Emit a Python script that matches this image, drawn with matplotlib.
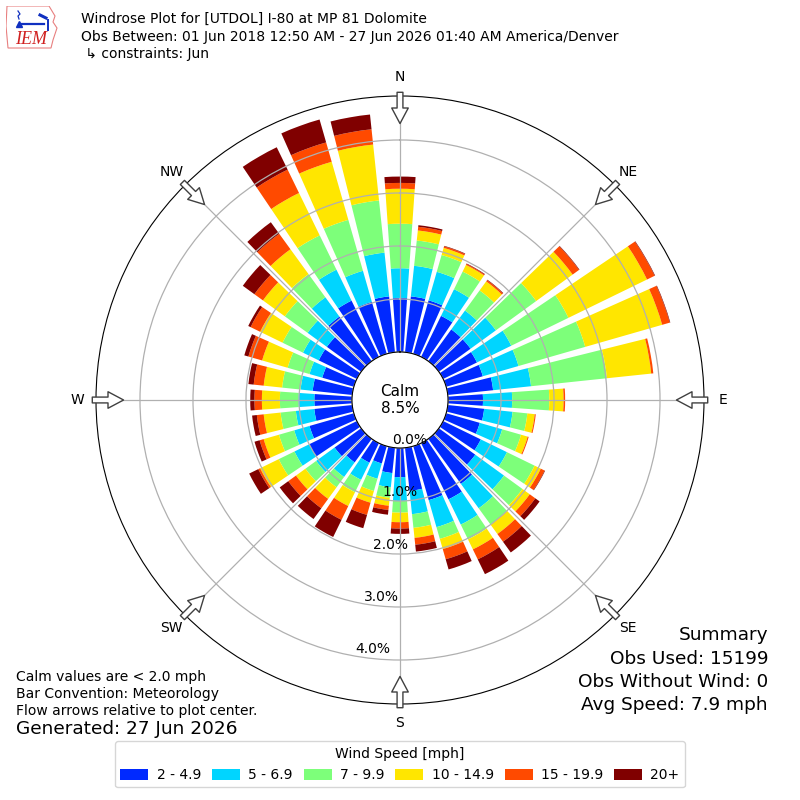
import numpy as np
import matplotlib
matplotlib.use("Agg")
import matplotlib.pyplot as plt
from matplotlib.patches import Patch, Polygon

# wind directions (deg, meteorological) and cumulative frequency (%) at the top of each speed bin
directions = list(range(0, 360, 10))
top_2_5 = [1.02, 1.06, 1.05, 0.86, 0.74, 0.74, 0.71, 0.72, 0.86, 0.66, 0.69, 0.66,
           0.79, 0.85, 1.05, 1.18, 1.06, 0.82, 0.55, 0.48, 0.34, 0.41, 0.55, 0.62,
           1.00, 0.87, 0.72, 0.71, 0.75, 0.62, 0.80, 0.80, 1.04, 1.18, 1.02, 1.06]
top_5_7 = [1.58, 1.64, 1.61, 1.42, 1.18, 1.33, 1.43, 1.42, 1.58, 1.21, 1.23, 1.10,
           1.34, 1.52, 1.62, 1.71, 1.59, 1.26, 1.00, 0.75, 0.64, 0.77, 0.89, 1.05,
           1.31, 1.17, 1.07, 1.01, 0.98, 0.87, 1.13, 1.25, 1.49, 1.83, 1.63, 1.89]
top_7_10 = [2.42, 2.12, 1.94, 1.79, 1.65, 2.27, 2.63, 2.73, 3.02, 1.91, 1.51, 1.47,
            1.92, 1.95, 2.00, 2.02, 1.82, 1.52, 1.22, 0.95, 0.88, 1.03, 1.13, 1.30,
            1.64, 1.47, 1.36, 1.36, 1.33, 1.30, 1.56, 1.78, 2.03, 2.55, 2.63, 2.88]
top_10_15 = [3.08, 2.31, 2.08, 1.93, 1.86, 3.12, 4.28, 4.24, 3.86, 2.18, 1.65, 1.60,
             2.05, 2.12, 2.22, 2.23, 2.02, 1.71, 1.40, 1.10, 1.11, 1.32, 1.40, 1.52,
             2.03, 1.77, 1.68, 1.70, 1.68, 1.80, 2.03, 2.29, 2.61, 3.44, 3.77, 3.94]
top_15_20 = [3.19, 2.38, 2.11, 1.95, 1.89, 3.27, 4.44, 4.39, 3.90, 2.21, 1.67, 1.62,
             2.13, 2.25, 2.40, 2.44, 2.22, 1.84, 1.52, 1.18, 1.35, 1.61, 1.62, 1.70,
             2.07, 1.85, 1.81, 1.84, 1.87, 2.07, 2.23, 2.49, 2.97, 3.93, 4.15, 4.23]
top_20 = [3.31, 2.41, 2.12, 1.96, 1.90, 3.28, 4.45, 4.40, 3.90, 2.21, 1.67, 1.62,
          2.14, 2.35, 2.65, 2.75, 2.42, 1.97, 1.62, 1.27, 1.61, 1.97, 1.87, 1.90,
          2.26, 1.95, 1.90, 1.92, 1.97, 2.15, 2.28, 2.76, 3.24, 4.40, 4.60, 4.51]

bin_labels = ["2 - 4.9", "5 - 6.9", "7 - 9.9", "10 - 14.9", "15 - 19.9", "20+"]
bin_colors = ["#0029ff", "#00d5ff", "#7dff7a", "#ffe600", "#ff4a00", "#800000"]
compass = ["N", "NE", "E", "SE", "S", "SW", "W", "NW"]
ring_values = [0, 1, 2, 3, 4]

calm_pct = 8.5
obs_used = 15199
obs_no_wind = 0
avg_speed = 7.9

fig = plt.figure(figsize=(8, 8), dpi=100)
ax = fig.add_axes([0.12, 0.12, 0.76, 0.76], projection="polar")
ax.set_theta_zero_location("N")
ax.set_theta_direction(-1)

theta = np.deg2rad(directions)
width = np.deg2rad(8)
tops = [top_2_5, top_5_7, top_7_10, top_10_15, top_15_20, top_20]
base = np.zeros(len(directions))
for vals, color in zip(tops, bin_colors):
    vals = np.array(vals)
    ax.bar(theta, vals - base, width=width, bottom=base, color=color,
           linewidth=0, zorder=1)
    base = vals

rmax = max(top_20) * 1.05
ax.set_rlim(0, rmax)
ax.set_rorigin(-0.906)
ax.set_rgrids(ring_values, [f"{v:.1f}%" for v in ring_values], fontsize=10)
ax.set_rlabel_position(190)
ax.set_thetagrids(range(0, 360, 45), compass, fontsize=10)
ax.tick_params(axis="x", pad=3)
ax.grid(True, color="#b0b0b0", lw=0.9)

ax.text(0.5, 0.5, f"Calm\n{calm_pct}%", transform=ax.transAxes,
        ha="center", va="center", fontsize=11, zorder=5)

# flow arrows at the compass points
for ang in range(0, 360, 45):
    t = np.deg2rad(ang)
    ax.annotate("", xy=(t, 4.31), xytext=(t, 4.90), annotation_clip=False,
                arrowprops=dict(arrowstyle="simple,head_length=0.8,head_width=0.85,tail_width=0.3",
                                fc="white", ec="#404040", lw=1, shrinkA=0, shrinkB=0,
                                mutation_scale=14))

# header
fig.text(81 / 800, 1 - 19 / 800, "Windrose Plot for [UTDOL] I-80 at MP 81 Dolomite",
         fontsize=10, va="center")
fig.text(81 / 800, 1 - 37 / 800,
         "Obs Between: 01 Jun 2018 12:50 AM - 27 Jun 2026 01:40 AM America/Denver",
         fontsize=10, va="center")
fig.text(81 / 800, 1 - 54 / 800, " \u21b3 constraints: Jun", fontsize=10, va="center")

# logo (rough IEM mark)
lax = fig.add_axes([6 / 800, 1 - 52 / 800, 58 / 800, 46 / 800])
lax.set_xlim(0, 58)
lax.set_ylim(0, 46)
lax.axis("off")
outline = [(1, 46), (43, 46), (46, 41), (49, 36), (47, 30), (51, 24), (49, 18),
           (47, 12), (45, 4), (2, 4), (0, 26)]
lax.add_patch(Polygon(outline, closed=True, fill=False, ec="#e88080", lw=0.8))
lax.plot([14, 38], [28, 28], color="#1030c0", lw=1.6)
lax.plot([34, 40], [37, 34], color="#1030c0", lw=2.2)
lax.plot([42, 42], [32, 22], color="#1030c0", lw=1.4)
lax.plot([12, 14, 12, 13], [41, 38, 36, 33], color="#1030c0", lw=0.9)
lax.plot([13], [28], marker="^", color="#1030c0", ms=4)
lax.text(25, 13, "IEM", color="#d02020", fontsize=13, style="italic",
         family="Liberation Serif", ha="center", va="center")

# notes
fig.text(16 / 800, 1 - 677 / 800, "Calm values are < 2.0 mph", fontsize=10, va="center")
fig.text(16 / 800, 1 - 694 / 800, "Bar Convention: Meteorology", fontsize=10, va="center")
fig.text(16 / 800, 1 - 711 / 800, "Flow arrows relative to plot center.", fontsize=10,
         va="center")
fig.text(16 / 800, 1 - 729 / 800, "Generated: 27 Jun 2026", fontsize=13.3, va="center")

fig.text(768 / 800, 1 - 635 / 800, "Summary", fontsize=13.3, ha="right", va="center")
fig.text(768 / 800, 1 - 659 / 800, f"Obs Used: {obs_used}", fontsize=13.3, ha="right",
         va="center")
fig.text(768 / 800, 1 - 682 / 800, f"Obs Without Wind: {obs_no_wind}", fontsize=13.3,
         ha="right", va="center")
fig.text(768 / 800, 1 - 705 / 800, f"Avg Speed: {avg_speed} mph", fontsize=13.3,
         ha="right", va="center")

handles = [Patch(facecolor=c) for c in bin_colors]
fig.legend(handles, bin_labels, loc="lower center", bbox_to_anchor=(0.5, 0.007),
           ncol=6, title="Wind Speed [mph]", fontsize=10, title_fontsize=10,
           handlelength=2.0, handleheight=0.85, handletextpad=0.6, columnspacing=0.8)

fig.savefig("out.png", dpi=100)
